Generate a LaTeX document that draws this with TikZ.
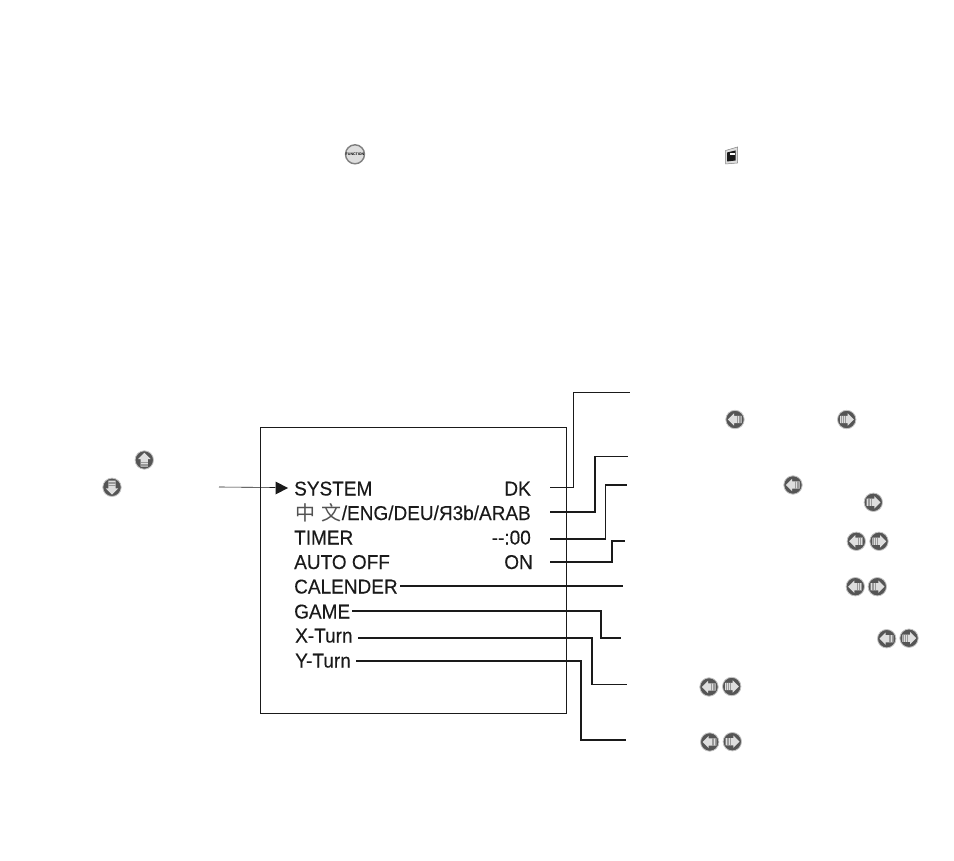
\documentclass[tikz,border=0pt]{standalone}
\usepackage{fontspec}
\setmainfont{Liberation Sans}
\newfontfamily\menufont[FakeStretch=0.95,FakeBold=0.25]{Liberation Sans}
\newfontfamily\cjkfont{Noto Sans CJK SC}
\definecolor{ink}{HTML}{1A1A1A}
\definecolor{btndark}{HTML}{555555}
\definecolor{btnlight}{HTML}{DEDEDE}
\definecolor{btnhalo}{HTML}{C4C4C4}
\tikzset{
  menutext/.style={anchor=base west,inner sep=0pt,font=\menufont\fontsize{20}{22}\selectfont,text=ink},
  menuvalue/.style={anchor=base east,inner sep=0pt,font=\menufont\fontsize{20}{22}\selectfont,text=ink},
  leader/.style={draw=ink,line width=1.7pt},
  btn/.pic={
    \fill[btndark,draw=btnhalo,line width=0.8pt] (0,0) circle (9.2);
    \fill[btnlight] (-7.2,0)--(-1,-6.2)--(-1,-3.6)--(6.6,-3.6)--(6.6,3.6)--(-1,3.6)--(-1,6.2)--cycle;
    \draw[gray!80,line width=0.4pt] (2,-3.6)--(2,3.6) (3.8,-3.6)--(3.8,3.6) (5.5,-3.6)--(5.5,3.6);
  }
}
\begin{document}
\begin{tikzpicture}[x=1pt,y=-1pt]
\useasboundingbox (0,0) rectangle (954,861);
\fill[white] (0,0) rectangle (954,861);
% screen frame
\node[draw=ink,line width=1pt,minimum width=306pt,minimum height=285.5pt,inner sep=0pt,anchor=north west] (frame) at (260,427) {};
% menu rows
\node[menutext] (system) at (294,495.5) {SYSTEM};
\node[menuvalue] (dk) at (531,495.5) {DK};
\node[menuvalue] (lang) at (531,520) {{\cjkfont\fontsize{20}{22}\selectfont\color{ink!75}中\hspace{6pt}文}/ENG/DEU/Я3b/ARAB};
\node[menutext] (timer) at (294,544.5) {TIMER};
\node[menuvalue] (timerv) at (531,544.5) {-{}-:00};
\node[menutext] (auto) at (294,569) {AUTO OFF};
\node[menuvalue] (on) at (533,569) {ON};
\node[menutext] (cal) at (294,593.5) {CALENDER};
\node[menutext] (game) at (294,618.5) {GAME};
\node[menutext] (xturn) at (295,642.5) {X-Turn};
\node[menutext] (yturn) at (295,667.5) {Y-Turn};
% pointer
\coordinate (ptrfrom) at (219,487);
\node[fill=ink,inner sep=0pt,minimum size=0pt] (ptrhead) at (275.5,487.5) {};
\draw[ink,line width=0.6pt] (ptrfrom) -- (ptrhead);
\fill[ink] (275.5,481.5) -- (288,488) -- (275.5,494.5) -- cycle;
% leader ends
\coordinate (s1) at (550,487.5); \coordinate (e1) at (630,392.5);
\coordinate (s2) at (550,512);   \coordinate (e2) at (628,456.5);
\coordinate (s3) at (550,539);   \coordinate (e3) at (627,485);
\coordinate (s4) at (550,562);   \coordinate (e4) at (625,541);
\coordinate (s5) at (400,586);   \coordinate (e5) at (623,586);
\coordinate (s6) at (352,611);   \coordinate (e6) at (621,638);
\coordinate (s7) at (358,638);   \coordinate (e7) at (627,684.5);
\coordinate (s8) at (356,661);   \coordinate (e8) at (626,740);
\draw[leader] (s1) -- (573.5,487.5) -- (573.5,392.5) -- (e1);
\draw[leader] (s2) -- (595,512) -- (595,456.5) -- (e2);
\draw[leader] (s3) -- (605.5,539) -- (605.5,485) -- (e3);
\draw[leader] (s4) -- (612,562) -- (612,541) -- (e4);
\draw[leader] (s5) -- (e5);
\draw[leader] (s6) -- (601,611) -- (601,638) -- (e6);
\draw[leader] (s7) -- (592,638) -- (592,684.5) -- (e7);
\draw[leader] (s8) -- (581,661) -- (581,740) -- (e8);
% buttons
\pic at (735,419.5) {btn};
\pic[rotate=180] at (846.7,419.5) {btn};
\pic at (793,485) {btn};
\pic[rotate=180] at (873.3,502.3) {btn};
\pic at (856.3,541.3) {btn};
\pic[rotate=180] at (879,541.3) {btn};
\pic at (855.3,586.7) {btn};
\pic[rotate=180] at (877.3,586.7) {btn};
\pic at (886.7,638.7) {btn};
\pic[rotate=180] at (909,638.2) {btn};
\pic at (709,687) {btn};
\pic[rotate=180] at (731.7,686.5) {btn};
\pic at (709.7,742) {btn};
\pic[rotate=180] at (732.3,741.7) {btn};
\pic[rotate=-90] at (144.3,460) {btn};
\pic[rotate=90] at (112,487.3) {btn};
% function button
\node[circle,draw=gray,line width=1.4pt,fill=btnlight,minimum size=19pt,inner sep=0pt,font=\fontsize{3.6}{4}\selectfont\bfseries] (func) at (355,154.3) {FUNCTION};
% picture icon
\fill[btnlight,draw=gray,line width=0.5pt] (725.5,150.5) -- (737.5,147) -- (737.5,163) -- (725.5,164) -- cycle;
\fill[ink] (727,152.5) -- (735.5,150.5) -- (735.5,160.5) -- (727,161.5) -- cycle;
\fill[white] (730,155) rectangle (734.5,153);
\end{tikzpicture}
\end{document}
